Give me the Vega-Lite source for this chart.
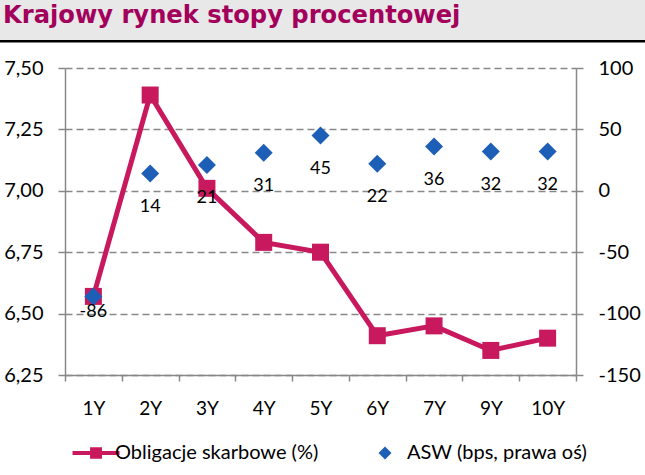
{
  "$schema": "https://vega.github.io/schema/vega-lite/v6.json",
  "padding": 0,
  "spacing": 15,
  "background": "white",
  "config": {
    "font": "Lato",
    "view": {"stroke": null}
  },
  "vconcat": [
    {
      "width": 580,
      "height": 40,
      "data": {"values": [{"title": "Krajowy rynek stopy procentowej"}]},
      "encoding": {
        "x": {"datum": 0, "type": "quantitative", "scale": {"domain": [0, 1], "range": [-65, 580]}, "axis": null}
      },
      "layer": [
        {
          "mark": {"type": "rect", "color": "#e8e8e8"},
          "encoding": {
            "x2": {"datum": 1},
            "y": {"datum": 0, "type": "quantitative", "scale": {"domain": [0, 1]}, "axis": null},
            "y2": {"datum": 1}
          }
        },
        {
          "mark": {"type": "rect", "color": "black"},
          "encoding": {
            "x2": {"datum": 1},
            "y": {"datum": -0.06, "type": "quantitative", "scale": {"domain": [0, 1]}, "axis": null},
            "y2": {"datum": 0}
          }
        },
        {
          "mark": {"type": "text", "align": "left", "baseline": "alphabetic", "dx": 3, "font": "DejaVu Sans", "fontWeight": "bold", "fontSize": 24.2, "color": "#a3005c"},
          "encoding": {
            "y": {"datum": 0.4375, "type": "quantitative", "scale": {"domain": [0, 1]}, "axis": null},
            "text": {"field": "title"}
          }
        }
      ]
    },
    {
      "width": 511,
      "height": 307,
      "data": {
        "values": [
          {"tenor": "1Y", "yield": 6.57, "asw": -86},
          {"tenor": "2Y", "yield": 7.39, "asw": 14},
          {"tenor": "3Y", "yield": 7.01, "asw": 21},
          {"tenor": "4Y", "yield": 6.79, "asw": 31},
          {"tenor": "5Y", "yield": 6.75, "asw": 45},
          {"tenor": "6Y", "yield": 6.41, "asw": 22},
          {"tenor": "7Y", "yield": 6.45, "asw": 36},
          {"tenor": "9Y", "yield": 6.35, "asw": 32},
          {"tenor": "10Y", "yield": 6.40, "asw": 32}
        ]
      },
      "encoding": {
        "x": {
          "field": "tenor", "type": "nominal",
          "sort": ["1Y", "2Y", "3Y", "4Y", "5Y", "6Y", "7Y", "9Y", "10Y"],
          "scale": {"type": "band", "paddingInner": 0, "paddingOuter": 0},
          "axis": {
            "title": null, "labelAngle": 0, "tickBand": "extent", "tickSize": 6,
            "domainColor": "#888888", "domainWidth": 1.5, "tickColor": "#888888", "tickWidth": 1.5,
            "labelFont": "Lato", "labelFontSize": 19, "labelColor": "black", "labelPadding": 18, "grid": false
          }
        }
      },
      "layer": [
        {
          "encoding": {
            "y": {
              "field": "yield", "type": "quantitative",
              "scale": {"domain": [6.25, 7.5], "nice": false, "zero": false},
              "axis": {
                "title": null, "orient": "left",
                "values": [6.25, 6.5, 6.75, 7.0, 7.25, 7.5],
                "labelExpr": "replace(format(datum.value, '.2f'), '.', ',')",
                "labelFont": "Lato", "labelFontSize": 20, "labelColor": "black", "labelPadding": 15,
                "tickSize": 7, "tickColor": "#888888", "tickWidth": 1.5,
                "domainColor": "#888888", "domainWidth": 1.5,
                "grid": true, "gridColor": "#888888", "gridWidth": 1.5, "gridDash": [7, 4],
                "minExtent": 65
              }
            }
          },
          "layer": [
            {
              "mark": {"type": "line", "color": "#c8195e", "strokeWidth": 5}
            },
            {
              "mark": {"type": "square", "size": 289, "opacity": 1, "filled": true},
              "encoding": {
                "color": {
                  "datum": "Obligacje skarbowe (%)",
                  "scale": {"domain": ["Obligacje skarbowe (%)", "ASW (bps, prawa oś)"], "range": ["#c8195e", "#1d5eb6"]},
                  "legend": {
                    "title": null, "orient": "none", "legendX": 18, "legendY": 443, "direction": "horizontal",
                    "labelFont": "Lato", "labelFontSize": 20, "labelColor": "black", "labelOffset": 12, "labelLimit": 400,
                    "symbolSize": 169, "columnPadding": 56, "padding": 0, "symbolStrokeWidth": 0, "symbolOpacity": 1,
                    "encode": {"symbols": {"update": {"shape": {"signal": "datum.value === 'ASW (bps, prawa oś)' ? 'diamond' : 'M-3.15,-0.31H4.08V0.31H-3.15Z M-0.45,-0.88H1.38V0.88H-0.45Z'"}}}}
                  }
                }
              }
            }
          ]
        },
        {
          "encoding": {
            "y": {
              "field": "asw", "type": "quantitative",
              "scale": {"domain": [-150, 100], "nice": false, "zero": false},
              "axis": {
                "title": null, "orient": "right",
                "values": [-150, -100, -50, 0, 50, 100],
                "labelExpr": "datum.value + ''",
                "labelFont": "Lato", "labelFontSize": 20, "labelColor": "black", "labelPadding": 15,
                "tickSize": 7, "tickColor": "#888888", "tickWidth": 1.5,
                "domainColor": "#888888", "domainWidth": 1.5, "grid": false
              }
            }
          },
          "layer": [
            {
              "mark": {"type": "point", "shape": "diamond", "size": 324, "filled": true, "opacity": 1},
              "encoding": {
                "color": {
                  "datum": "ASW (bps, prawa oś)",
                  "scale": {"domain": ["Obligacje skarbowe (%)", "ASW (bps, prawa oś)"], "range": ["#c8195e", "#1d5eb6"]}
                }
              }
            },
            {
              "transform": [{"filter": "datum.asw >= 0"}],
              "mark": {"type": "text", "dy": 33, "fontSize": 18, "font": "Lato", "color": "black"},
              "encoding": {"text": {"field": "asw", "type": "nominal"}}
            },
            {
              "transform": [{"filter": "datum.asw < 0"}],
              "mark": {"type": "text", "dy": 16, "fontSize": 18, "font": "Lato", "color": "black"},
              "encoding": {"text": {"field": "asw", "type": "nominal"}}
            }
          ]
        }
      ],
      "resolve": {"scale": {"y": "independent"}}
    }
  ]
}
